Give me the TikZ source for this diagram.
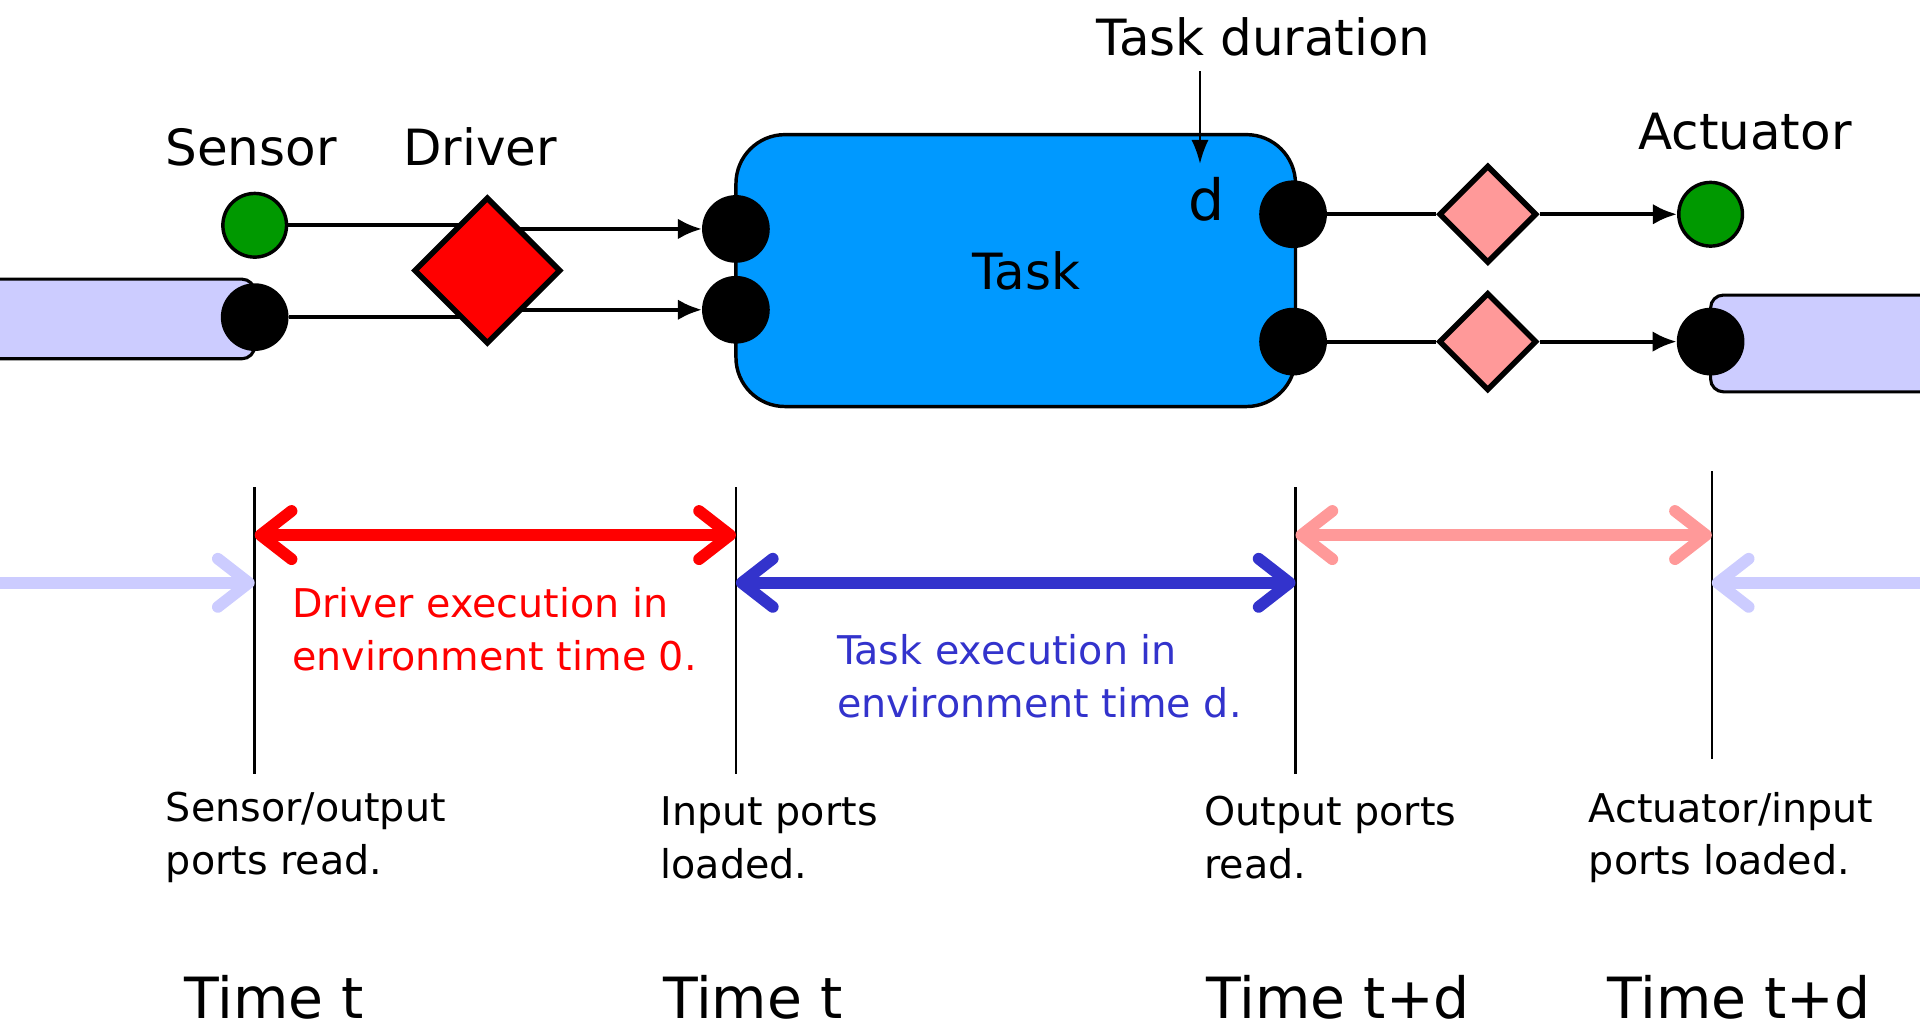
\documentclass[tikz,border=0pt]{standalone}
\usepackage{fontspec}
\setmainfont{DejaVu Sans}
\usetikzlibrary{shapes.geometric,arrows.meta}
\definecolor{taskblue}{HTML}{0099FF}
\definecolor{lavender}{HTML}{CCCCFF}
\definecolor{drvred}{HTML}{FF0000}
\definecolor{softpink}{HTML}{FF9999}
\definecolor{sensgreen}{HTML}{009900}
\definecolor{execblue}{HTML}{3333CC}
\pgfdeclarelayer{bg}
\pgfsetlayers{bg,main}

\begin{document}
\begin{tikzpicture}[x=0.0125cm,y=0.0125cm,
  port/.style={circle, fill=black, draw=black, line width=0.6pt, minimum size=0.67cm, inner sep=0pt},
  sensdot/.style={circle, fill=sensgreen, draw=black, line width=1pt, minimum size=0.65cm, inner sep=0pt},
  drvbox/.style={diamond, aspect=1, inner sep=0pt, draw=black, line width=1.6pt},
  pipe/.style={fill=lavender, draw=black, line width=0.9pt, rounded corners=0.13cm},
  wire/.style={line width=1.2pt},
  wirearrow/.style={wire, -{Latex[length=7pt,width=6pt]}},
  span/.style={line width=3.4pt, {Straight Barb[round,length=9pt,width=14pt]}-{Straight Barb[round,length=9pt,width=14pt]}},
  halfspan/.style={line width=3.4pt, -{Straight Barb[round,length=9pt,width=14pt]}},
  big/.style={font=\fontsize{14.5}{17}\selectfont},
  small/.style={font=\fontsize{11.5}{15.3}\selectfont, align=left, inner sep=0pt, anchor=west},
  timelbl/.style={font=\fontsize{16.5}{20}\selectfont, inner sep=0pt, anchor=base west}]
\useasboundingbox (0,0) rectangle (1568,840);

% pipes at both ends
\draw[pipe] (-30,547) rectangle (208,612);
\draw[pipe] (1397,520) rectangle (1600,599);

% task and its ports
\node[rectangle, rounded corners=0.5cm, fill=taskblue, draw=black, line width=1pt,
      minimum width=5.71cm, minimum height=2.775cm, big] (task) at (829.5,619) {};
\node[big] (tasklbl) at (838,619) {Task};
\node[font=\fontsize{16.5}{19}\selectfont, anchor=base] (dur) at (985,660) {d};
\node[port] (tin1) at (601,653) {};
\node[port] (tin2) at (601,587) {};
\node[port] (tout1) at (1056,665) {};
\node[port] (tout2) at (1056,561) {};

% sensor side
\node[sensdot] (sen) at (208,656) {};
\node[port] (pin) at (208,581) {};
\node[drvbox, fill=drvred, minimum size=1.5cm] (drv) at (398,619) {};
\begin{pgfonlayer}{bg}
\draw[wire] (sen) -- (sen -| drv);
\draw[wire] (pin) -- (pin -| drv);
\draw[wirearrow] (drv |- tin1) -- (tin1);
\draw[wirearrow] (drv |- tin2) -- (tin2);
\end{pgfonlayer}

% actuator side
\node[drvbox, fill=softpink, minimum size=1.0cm] (od1) at (1215,665) {};
\node[drvbox, fill=softpink, minimum size=1.0cm] (od2) at (1215,561) {};
\node[sensdot] (act) at (1397,665) {};
\node[port] (pout) at (1397,561) {};
\draw[wire] (tout1) -- (od1);
\draw[wire] (tout2) -- (od2);
\draw[wirearrow] (od1) -- (act);
\draw[wirearrow] (od2) -- (pout);

% top labels
\node[big, anchor=base] (senlbl) at (205,705) {Sensor};
\node[big, anchor=base] (drvlbl) at (392,705) {Driver};
\node[big, anchor=base] (actlbl) at (1425,718) {Actuator};
\node[big, anchor=base] (tdur) at (1032,795) {Task duration};
\coordinate (dtip) at (980,706);
\draw[line width=0.8pt, -{Latex[length=7pt,width=5pt]}] ([yshift=-1pt]tdur.south -| dtip) -- (dtip);

% time line
\foreach \x/\ytop/\ybot in {208/442/208, 601/442/208, 1058/442/208, 1398/455/220}
  \draw[line width=0.7pt] (\x,\ytop) -- (\x,\ybot);
\coordinate (s1) at (208,403);
\coordinate (s2) at (601,403);
\coordinate (s3) at (1058,403);
\coordinate (s4) at (1398,403);
\coordinate (b0) at (0,364);
\coordinate (b1) at (208,364);
\coordinate (b2) at (601,364);
\coordinate (b3) at (1058,364);
\coordinate (b4) at (1398,364);
\coordinate (b5) at (1568,364);
\draw[halfspan, lavender] (b0) -- (b1);
\draw[span, drvred] (s1) -- (s2);
\draw[span, execblue] (b2) -- (b3);
\draw[span, softpink] (s3) -- (s4);
\draw[halfspan, lavender] (b5) -- (b4);

\node[small, text=drvred] (drvtxt) at (238,326) {Driver execution in\\environment time 0.};
\node[small, text=execblue] (tsktxt) at (683,288) {Task execution in\\environment time d.};

% events
\node[small] (ev1) at (135,156) {Sensor/output\\ports read.};
\node[small] (ev2) at (539,156) {Input ports\\loaded.};
\node[small] (ev3) at (983,156) {Output ports\\read.};
\node[small] (ev4) at (1297,156) {Actuator/input\\ports loaded.};

\node[timelbl] (tm1) at (150,8) {Time t};
\node[timelbl] (tm2) at (541,8) {Time t};
\node[timelbl] (tm3) at (985,8) {Time t+d};
\node[timelbl] (tm4) at (1312,8) {Time t+d};
\end{tikzpicture}
\end{document}
